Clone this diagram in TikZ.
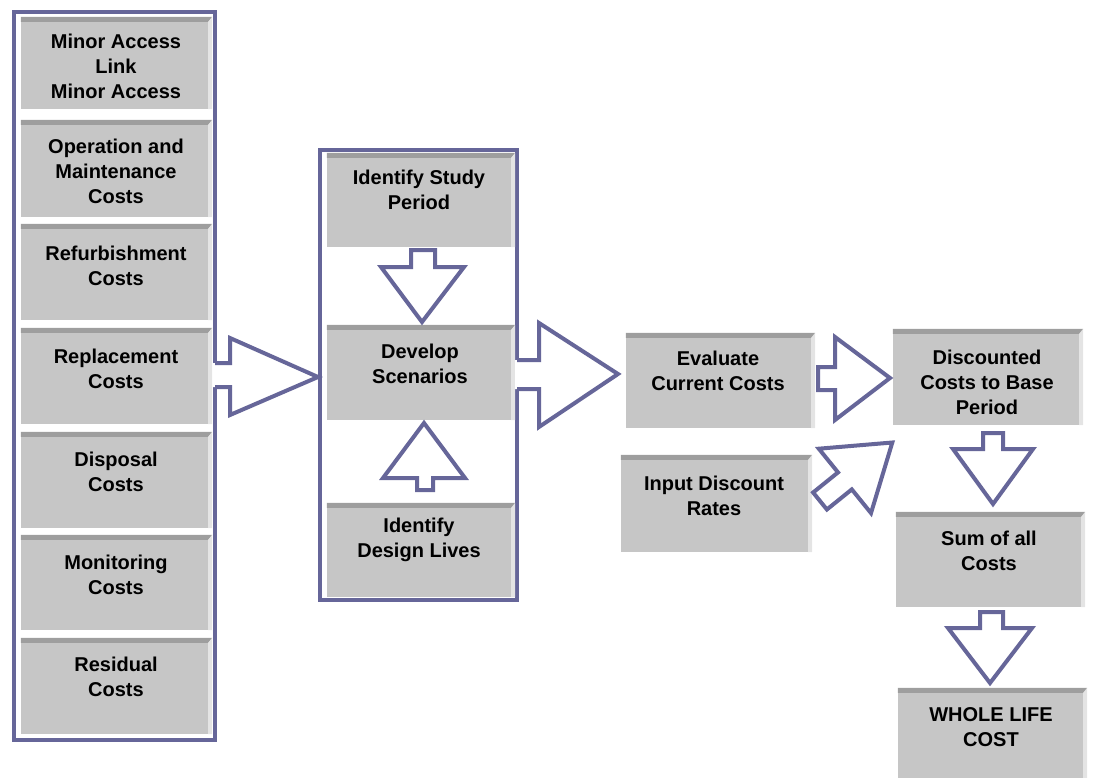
\documentclass[tikz,border=0pt]{standalone}
\usepackage{fontspec}
\setmainfont{Liberation Sans}
\usetikzlibrary{fit}

\definecolor{framecol}{RGB}{102,102,153}
\definecolor{facecol}{RGB}{198,198,198}
\definecolor{topcol}{RGB}{158,158,158}
\definecolor{sidecol}{RGB}{228,228,228}

\tikzset{
  framebox/.style={draw=framecol, line width=4pt, inner sep=0pt},
  boxface/.style={fill=facecol, inner sep=0pt},
  boxtext/.style={font=\fontsize{20}{25}\selectfont\bfseries, align=center, inner sep=0pt},
  blockarrow/.style={draw=framecol, fill=white, line width=4pt, line join=miter},
  arrowfill/.style={fill=white},
  arrowedge/.style={draw=framecol, line width=4pt, line join=miter},
}

% grey bevelled box: name, x1, y1, x2, y2
\newcommand\gbox[5]{%
  \node[boxface, fit={(#2,#3)(#4,#5)}] (#1) {};
  \fill[topcol] (#1.north west) -- (#1.north east)
     -- ([shift={(-4,5)}]#1.north east) -- ([shift={(0,5)}]#1.north west) -- cycle;
  \fill[sidecol] (#1.north east) -- (#1.south east)
     -- ([shift={(-4,0)}]#1.south east) -- ([shift={(-4,5)}]#1.north east) -- cycle;
}

\begin{document}
\begin{tikzpicture}[x=1pt, y=-1pt]
\useasboundingbox (0,0) rectangle (1094,778);
\clip (0,0) rectangle (1094,778);

% outer groups
\node[framebox, fit={(14,12.5)(215,740)}] (costgroup) {};
\node[framebox, fit={(319.5,150)(517,600)}] (scengroup) {};

% cost items
\gbox{minor}{21}{17}{212}{109}
\gbox{opmaint}{21}{120}{212}{217}
\gbox{refurb}{21}{224}{212}{320}
\gbox{replace}{21}{328}{212}{424}
\gbox{disposal}{21}{432}{212}{528}
\gbox{monitor}{21}{535}{212}{630}
\gbox{residual}{21}{638}{212}{734}

\node[boxtext] (minor-t)    at (116,66)    {Minor Access\\Link\\Minor Access};
\node[boxtext] (opmaint-t)  at (116,171)   {Operation and\\Maintenance\\Costs};
\node[boxtext] (refurb-t)   at (116,265.5) {Refurbishment\\Costs};
\node[boxtext] (replace-t)  at (116,368.5) {Replacement\\Costs};
\node[boxtext] (disposal-t) at (116,472)   {Disposal\\Costs};
\node[boxtext] (monitor-t)  at (116,574.5) {Monitoring\\Costs};
\node[boxtext] (residual-t) at (116,677)   {Residual\\Costs};

% scenario steps
\gbox{study}{327}{153}{515}{247}
\gbox{develop}{327}{325}{515}{420}
\gbox{design}{327}{503}{515}{597}

\node[boxtext] (study-t)   at (419,190) {Identify Study\\Period};
\node[boxtext] (develop-t) at (420,364) {Develop\\Scenarios};
\node[boxtext] (design-t)  at (419,540) {Identify\\Design Lives};

% evaluation chain
\gbox{evaluate}{626}{333}{815}{428}
\gbox{discrate}{621}{455}{812}{552}
\gbox{discounted}{893}{329}{1083}{425}
\gbox{sumall}{896}{512}{1085}{607}
\gbox{wlc}{898}{688}{1087}{800}

\node[boxtext] (evaluate-t)   at (718,370.5) {Evaluate\\Current Costs};
\node[boxtext] (discrate-t)   at (714,495.5) {Input Discount\\Rates};
\node[boxtext] (discounted-t) at (987,382)   {Discounted\\Costs to Base\\Period};
\node[boxtext] (sumall-t)     at (989,551)   {Sum of all\\Costs};
\node[boxtext] (wlc-t)        at (991,727)   {WHOLE LIFE\\COST};

% open-tailed arrows leaving the groups
\fill[arrowfill] (213,363) -- (230,363) -- (230,338) -- (318,377) -- (230,415) -- (230,387) -- (213,387) -- cycle;
\draw[arrowedge] (215,363) -- (230,363) -- (230,338) -- (318,377) -- (230,415) -- (230,387) -- (215,387);

\fill[arrowfill] (515,360) -- (539,360) -- (539,323) -- (618,374) -- (539,427) -- (539,389) -- (515,389) -- cycle;
\draw[arrowedge] (517,360) -- (539,360) -- (539,323) -- (618,374) -- (539,427) -- (539,389) -- (517,389);

% closed block arrows
\draw[blockarrow] (411,250) -- (435,250) -- (435,267) -- (464,267) -- (422,322) -- (381,267) -- (411,267) -- cycle;
\draw[blockarrow] (417,490) -- (433,490) -- (433,478) -- (465,478) -- (424,423) -- (383,478) -- (417,478) -- cycle;
\draw[blockarrow] (818,367) -- (835,367) -- (835,337) -- (890,378) -- (835,420) -- (835,390) -- (818,390) -- cycle;
\draw[blockarrow] (826.9,509.5) -- (851.8,489.4) -- (871.0,513.1) -- (892.3,442.5) -- (818.8,448.7) -- (838.0,472.4) -- (813.1,492.5) -- cycle;
\draw[blockarrow] (983,433) -- (1003,433) -- (1003,449) -- (1033,449) -- (993,504) -- (953,449) -- (983,449) -- cycle;
\draw[blockarrow] (980,612) -- (1003,612) -- (1003,628) -- (1032,628) -- (990,683) -- (948,628) -- (980,628) -- cycle;
\end{tikzpicture}
\end{document}
